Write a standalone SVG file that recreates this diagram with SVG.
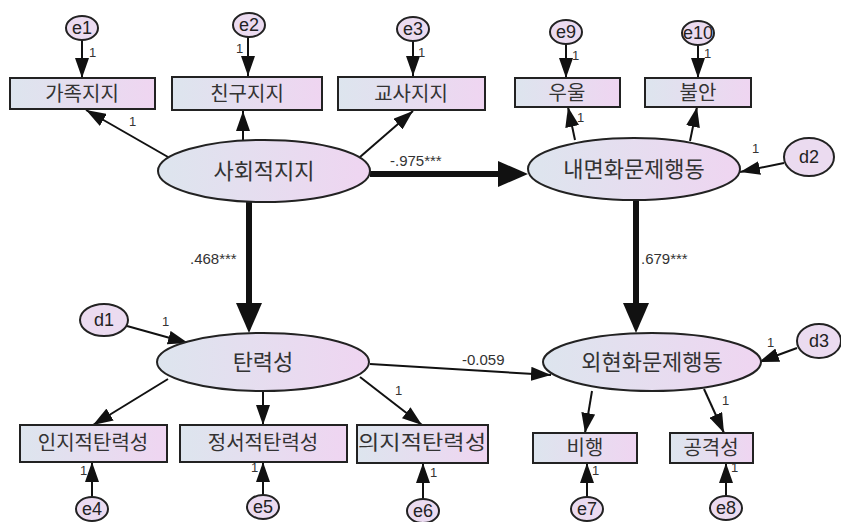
<svg xmlns="http://www.w3.org/2000/svg" width="841" height="522" viewBox="0 0 841 522">
<defs>
<linearGradient id="g" x1="0" y1="0" x2="1" y2="0">
<stop offset="0" stop-color="#dde5ee"/>
<stop offset="1" stop-color="#efd5f1"/>
</linearGradient>
<marker id="a" markerUnits="userSpaceOnUse" viewBox="0 0 20 14" markerWidth="20" markerHeight="14" refX="20" refY="7" orient="auto">
<path d="M0,0 L20,7 L0,14 z" fill="#111"/>
</marker>
<marker id="A" markerUnits="userSpaceOnUse" viewBox="0 0 30 26" markerWidth="30" markerHeight="26" refX="12" refY="13" orient="auto">
<path d="M0,0 L30,13 L0,26 z" fill="#111"/>
</marker>
</defs>
<style>
.box{fill:url(#g);stroke:#222;stroke-width:2}
.lat{fill:url(#g);stroke:#222;stroke-width:2}
.err{fill:#ebdbf0;stroke:#222;stroke-width:2}
.kt{font-family:"Noto Sans CJK KR","Noto Sans",sans-serif;font-size:20px;fill:#333;text-anchor:middle}
.kl{font-family:"Noto Sans CJK KR","Noto Sans",sans-serif;font-size:22px;fill:#333;text-anchor:middle}
.et{font-family:"Liberation Sans",Arial,sans-serif;font-size:18px;fill:#222;text-anchor:middle}
.one{font-family:"Liberation Sans",Arial,sans-serif;font-size:13px;fill:#333}
.cf{font-family:"Liberation Sans",Arial,sans-serif;font-size:15px;fill:#333}
.c{stroke:#111;stroke-width:2;fill:none;marker-end:url(#a)}
.C{stroke:#111;stroke-width:6;fill:none;marker-end:url(#A)}
</style>
<rect width="841" height="522" fill="#fff"/>
<g id="connectors">
<line class="c" x1="82" y1="40" x2="82" y2="78"/>
<line class="c" x1="248" y1="37" x2="248" y2="76"/>
<line class="c" x1="413" y1="41" x2="413" y2="76"/>
<line class="c" x1="566" y1="44" x2="566" y2="78"/>
<line class="c" x1="698" y1="45" x2="698" y2="78"/>
<line class="c" x1="168" y1="157" x2="86" y2="110"/>
<line class="c" x1="243" y1="141" x2="243" y2="111"/>
<line class="c" x1="360" y1="157" x2="413" y2="111"/>
<line class="c" x1="575" y1="140" x2="568" y2="107"/>
<line class="c" x1="690" y1="141" x2="697" y2="107"/>
<line class="c" x1="784" y1="163" x2="740" y2="172"/>
<line class="C" x1="370" y1="174" x2="510" y2="174"/>
<line class="C" x1="249" y1="202" x2="249" y2="315"/>
<line class="C" x1="636" y1="200" x2="636" y2="315"/>
<line class="c" x1="127" y1="326" x2="188" y2="343"/>
<line class="c" x1="370" y1="364" x2="551" y2="375"/>
<line class="c" x1="797" y1="348" x2="759" y2="362"/>
<line class="c" x1="168" y1="379" x2="93" y2="425"/>
<line class="c" x1="263" y1="391" x2="263" y2="425"/>
<line class="c" x1="360" y1="377" x2="422" y2="425"/>
<line class="c" x1="92" y1="497" x2="92" y2="462"/>
<line class="c" x1="263" y1="496" x2="263" y2="462"/>
<line class="c" x1="423" y1="499" x2="423" y2="463"/>
<line class="c" x1="592" y1="391" x2="585" y2="433"/>
<line class="c" x1="704" y1="389" x2="724" y2="433"/>
<line class="c" x1="587" y1="497" x2="587" y2="463"/>
<line class="c" x1="726" y1="496" x2="726" y2="463"/>
<text class="one" x="89" y="57">1</text>
<text class="one" x="236" y="53">1</text>
<text class="one" x="418" y="57">1</text>
<text class="one" x="572" y="60">1</text>
<text class="one" x="704" y="58">1</text>
<text class="one" x="129" y="126">1</text>
<text class="one" x="577" y="122">1</text>
<text class="one" x="752" y="153">1</text>
<text class="one" x="162" y="326">1</text>
<text class="one" x="395" y="395">1</text>
<text class="one" x="767" y="347">1</text>
<text class="one" x="722" y="405">1</text>
<text class="one" x="80" y="475">1</text>
<text class="one" x="251" y="472">1</text>
<text class="one" x="430" y="477">1</text>
<text class="one" x="592" y="475">1</text>
<text class="one" x="731" y="472">1</text>
<text class="cf" x="390" y="166">-.975***</text>
<text class="cf" x="190" y="264">.468***</text>
<text class="cf" x="641" y="264">.679***</text>
<text class="cf" x="462" y="365">-0.059</text>
</g>
<g id="e1"><ellipse class="err" cx="82" cy="28" rx="16" ry="12"/><text class="et" x="82" y="34">e1</text></g>
<g id="e2"><ellipse class="err" cx="249" cy="25" rx="16" ry="12"/><text class="et" x="249" y="31">e2</text></g>
<g id="e3"><ellipse class="err" cx="413" cy="29" rx="16" ry="12"/><text class="et" x="413" y="35">e3</text></g>
<g id="e9"><ellipse class="err" cx="566" cy="32" rx="16" ry="12"/><text class="et" x="566" y="38">e9</text></g>
<g id="e10"><ellipse class="err" cx="698" cy="33" rx="16" ry="12"/><text class="et" x="698" y="39">e10</text></g>
<g id="n-family"><rect class="box" x="10" y="78" width="145" height="31"/><text class="kt" x="82" y="101">가족지지</text></g>
<g id="n-friend"><rect class="box" x="172" y="77" width="150" height="33"/><text class="kt" x="247" y="101">친구지지</text></g>
<g id="n-teacher"><rect class="box" x="338" y="77" width="147" height="33"/><text class="kt" x="411" y="101">교사지지</text></g>
<g id="n-depress"><rect class="box" x="515" y="78" width="105" height="29"/><text class="kt" x="567" y="100">우울</text></g>
<g id="n-anxiety"><rect class="box" x="645" y="78" width="106" height="29"/><text class="kt" x="698" y="100">불안</text></g>
<g id="l-social"><ellipse class="lat" cx="264" cy="171" rx="106" ry="31"/><text class="kl" x="264" y="179">사회적지지</text></g>
<g id="l-internal"><ellipse class="lat" cx="634" cy="169" rx="106" ry="31"/><text class="kl" x="634" y="177">내면화문제행동</text></g>
<g id="d2"><ellipse class="err" cx="809" cy="157" rx="25" ry="19"/><text class="et" x="809" y="163">d2</text></g>
<g id="d1"><ellipse class="err" cx="104" cy="320" rx="24" ry="16"/><text class="et" x="104" y="326">d1</text></g>
<g id="l-resilience"><ellipse class="lat" cx="263" cy="362" rx="106" ry="29"/><text class="kl" x="263" y="370">탄력성</text></g>
<g id="l-external"><ellipse class="lat" cx="652" cy="362" rx="109" ry="29"/><text class="kl" x="652" y="370">외현화문제행동</text></g>
<g id="d3"><ellipse class="err" cx="819" cy="341" rx="22" ry="17"/><text class="et" x="819" y="347">d3</text></g>
<g id="n-cognitive"><rect class="box" x="20" y="425" width="147" height="37"/><text class="kt" x="93" y="450">인지적탄력성</text></g>
<g id="n-emotional"><rect class="box" x="180" y="425" width="167" height="37"/><text class="kt" x="263" y="450">정서적탄력성</text></g>
<g id="n-volitional"><rect class="box" x="357" y="425" width="131" height="38"/><text class="kt" x="422" y="450" textLength="128" lengthAdjust="spacingAndGlyphs">의지적탄력성</text></g>
<g id="n-delinquency"><rect class="box" x="533" y="433" width="104" height="30"/><text class="kt" x="585" y="455">비행</text></g>
<g id="n-aggression"><rect class="box" x="670" y="433" width="83" height="30"/><text class="kt" x="711" y="455">공격성</text></g>
<g id="e4"><ellipse class="err" cx="92" cy="509" rx="16" ry="12"/><text class="et" x="92" y="515">e4</text></g>
<g id="e5"><ellipse class="err" cx="263" cy="507" rx="16" ry="12"/><text class="et" x="263" y="513">e5</text></g>
<g id="e6"><ellipse class="err" cx="423" cy="511" rx="16" ry="12"/><text class="et" x="423" y="517">e6</text></g>
<g id="e7"><ellipse class="err" cx="587" cy="509" rx="16" ry="12"/><text class="et" x="587" y="515">e7</text></g>
<g id="e8"><ellipse class="err" cx="726" cy="508" rx="16" ry="12"/><text class="et" x="726" y="514">e8</text></g>
</svg>
